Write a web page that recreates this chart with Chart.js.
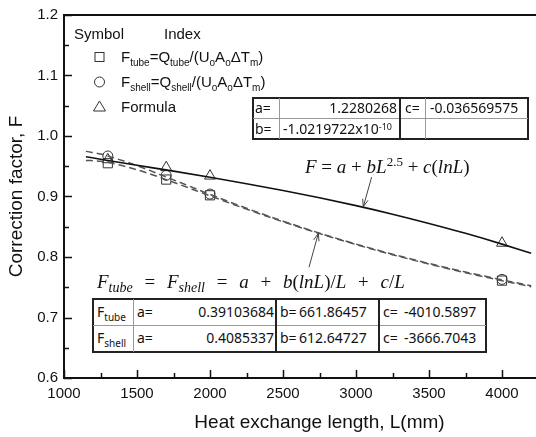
<!DOCTYPE html>
<html><head><meta charset="utf-8">
<script src="https://cdn.jsdelivr.net/npm/chart.js@4.4.0/dist/chart.umd.min.js"></script>
<style>
html,body{margin:0;padding:0;background:#fff;overflow:hidden;width:536px;height:437px;}
#wrap{position:relative;width:584px;height:437px;}
#c{position:absolute;left:0;top:0;}
.t{position:absolute;white-space:nowrap;font-family:"Liberation Sans",Arial,sans-serif;font-size:15px;color:#111;line-height:18px;}
.t sub{font-size:10px;vertical-align:-4px;line-height:0;}
.eq{position:absolute;white-space:nowrap;font-family:"Liberation Serif","Times New Roman",serif;font-size:19px;color:#111;line-height:22px;}
.eq i{font-style:italic;}
.eq sub{font-size:14px;vertical-align:-4px;line-height:0;font-style:italic;}
.eq sup{font-size:13px;vertical-align:7px;line-height:0;}
.box{position:absolute;background:#fff;border:2px solid #222;box-sizing:border-box;}
.hl{position:absolute;height:1px;background:#999;}
.vl{position:absolute;width:1px;background:#999;}
.vk{position:absolute;width:2px;background:#222;}
.c{position:absolute;white-space:nowrap;font-family:"Noto Sans","Open Sans",sans-serif;font-size:14px;color:#111;line-height:20px;}
.c sub{font-size:10px;vertical-align:-4px;line-height:0;}
.c sup{font-size:9px;vertical-align:4px;line-height:0;}
</style>
</head><body>
<div id="wrap">
<canvas id="c" width="584" height="437"></canvas>

<!-- legend -->
<div class="t" style="left:74px;top:25px;">Symbol</div>
<div class="t" style="left:164px;top:25px;">Index</div>
<div class="t" style="left:121px;top:48px;">F<sub>tube</sub>=Q<sub>tube</sub>/(U<sub>o</sub>A<sub>o</sub>ΔT<sub>m</sub>)</div>
<div class="t" style="left:121px;top:73px;">F<sub>shell</sub>=Q<sub>shell</sub>/(U<sub>o</sub>A<sub>o</sub>ΔT<sub>m</sub>)</div>
<div class="t" style="left:121px;top:98px;">Formula</div>

<!-- top parameter table -->
<div class="box" style="left:252px;top:97px;width:277px;height:43px;"></div>
<div class="hl" style="left:253px;top:118px;width:275px;"></div>
<div class="vl" style="left:279px;top:98px;height:41px;"></div>
<div class="vk" style="left:399px;top:98px;height:41px;"></div>
<div class="vl" style="left:425px;top:98px;height:41px;"></div>
<div class="c" style="left:255px;top:98px;">a=</div>
<div class="c" style="left:280px;top:98px;width:117px;text-align:right;">1.2280268</div>
<div class="c" style="left:405px;top:98px;">c=</div>
<div class="c" style="left:430px;top:98px;">-0.036569575</div>
<div class="c" style="left:255px;top:119px;">b=</div>
<div class="c" style="left:283px;top:119px;">-1.0219722x10<sup>-10</sup></div>

<!-- equations -->
<div class="eq" style="left:305px;top:156px;"><i>F</i> = <i>a</i> + <i>bL</i><sup>2.5</sup> + <i>c</i>(<i>lnL</i>)</div>
<div class="eq" style="left:97px;top:271px;word-spacing:7px;"><i>F</i><sub>tube</sub> = <i>F</i><sub>shell</sub> = <i>a</i> + <i>b</i>(<i>lnL</i>)/<i>L</i> + <i>c</i>/<i>L</i></div>

<!-- bottom parameter table -->
<div class="box" style="left:92px;top:298px;width:395px;height:55px;"></div>
<div class="hl" style="left:93px;top:325px;width:393px;"></div>
<div class="vl" style="left:133px;top:299px;height:53px;"></div>
<div class="vk" style="left:275px;top:299px;height:53px;"></div>
<div class="vk" style="left:378px;top:299px;height:53px;"></div>
<div class="c" style="left:97px;top:302px;">F<sub>tube</sub></div>
<div class="c" style="left:137px;top:302px;">a=</div>
<div class="c" style="left:160px;top:302px;width:114px;text-align:right;">0.39103684</div>
<div class="c" style="left:280px;top:302px;">b=</div>
<div class="c" style="left:299px;top:302px;">661.86457</div>
<div class="c" style="left:383px;top:302px;">c=</div>
<div class="c" style="left:404px;top:302px;">-4010.5897</div>
<div class="c" style="left:97px;top:328px;">F<sub>shell</sub></div>
<div class="c" style="left:137px;top:328px;">a=</div>
<div class="c" style="left:160px;top:328px;width:114px;text-align:right;">0.4085337</div>
<div class="c" style="left:280px;top:328px;">b=</div>
<div class="c" style="left:299px;top:328px;">612.64727</div>
<div class="c" style="left:383px;top:328px;">c=</div>
<div class="c" style="left:404px;top:328px;">-3666.7043</div>
</div>

<script>
// ---- data ----
const lengthPoints = [1300, 1700, 2000, 4000];
const fTube        = [0.955, 0.928, 0.902, 0.761];
const fShell       = [0.967, 0.935, 0.904, 0.763];
const fFormula     = [0.961, 0.948, 0.934, 0.823];

const curveLength  = [1150, 1250, 1300, 1500, 1750, 2000, 2250, 2500, 2750, 3000, 3250, 3500, 3750, 4000, 4200];
const formulaCurve = [0.9657, 0.9616, 0.9596, 0.9517, 0.9419, 0.9318, 0.9212, 0.9100, 0.8979, 0.8849, 0.8708, 0.8555, 0.8391, 0.8213, 0.8061];
const tubeCurve    = [0.9597, 0.9583, 0.9565, 0.9442, 0.9235, 0.9011, 0.8791, 0.8582, 0.8387, 0.8206, 0.8038, 0.7883, 0.7740, 0.7608, 0.7509];
const shellCurve   = [0.9746, 0.9702, 0.9670, 0.9510, 0.9275, 0.9035, 0.8806, 0.8592, 0.8395, 0.8213, 0.8047, 0.7893, 0.7752, 0.7622, 0.7525];

const xTicks = [1000, 1500, 2000, 2500, 3000, 3500, 4000];
const yTicks = [0.6, 0.7, 0.8, 0.9, 1.0, 1.1, 1.2];

// arrow annotations in data units: [tailL, tailF, tipL, tipF]
const arrowFormula = [3107, 0.932, 3050, 0.883];
const arrowTube    = [2678, 0.783, 2742, 0.839];

function pts(xs, ys){ return xs.map((v,i)=>({x:v, y:ys[i]})); }

function arrow(ctx, x1, y1, x2, y2){
  ctx.beginPath(); ctx.moveTo(x1,y1); ctx.lineTo(x2,y2); ctx.stroke();
  const ang = Math.atan2(y2-y1, x2-x1), h = 8, s = 0.35;
  ctx.beginPath();
  ctx.moveTo(x2 - h*Math.cos(ang - s), y2 - h*Math.sin(ang - s));
  ctx.lineTo(x2, y2);
  ctx.lineTo(x2 - h*Math.cos(ang + s), y2 - h*Math.sin(ang + s));
  ctx.stroke();
}

const deco = {
  id: 'deco',
  afterDraw(chart){
    const {ctx, chartArea:a, scales:{x, y}} = chart;
    ctx.save();
    ctx.strokeStyle = '#111';
    ctx.lineWidth = 2;
    ctx.beginPath();
    ctx.moveTo(a.left - 1, a.top); ctx.lineTo(a.right, a.top); ctx.lineTo(a.right, a.bottom);
    ctx.stroke();
    // inward ticks
    ctx.lineWidth = 1.5;
    ctx.beginPath();
    for (let v = 1000; v <= 4500; v += 250) {
      const px = Math.round(x.getPixelForValue(v)) + 0.5;
      const len = (v % 500 === 0) ? 8 : 5;
      ctx.moveTo(px, a.bottom); ctx.lineTo(px, a.bottom - len);
    }
    for (let k = 0; k <= 12; k++) {
      const py = Math.round(y.getPixelForValue(0.6 + k*0.05)) + 0.5;
      const len = (k % 2 === 0) ? 8 : 5;
      ctx.moveTo(a.left, py); ctx.lineTo(a.left + len, py);
    }
    ctx.stroke();
    // arrows
    ctx.strokeStyle = '#444'; ctx.lineWidth = 1;
    [arrowFormula, arrowTube].forEach(r => arrow(ctx, x.getPixelForValue(r[0]), y.getPixelForValue(r[1]), x.getPixelForValue(r[2]), y.getPixelForValue(r[3])));
    // legend symbols
    ctx.strokeStyle = '#333'; ctx.lineWidth = 1;
    const lx = 99.5;
    ctx.strokeRect(lx - 4.5, 57 - 4.5, 9, 9);
    ctx.beginPath(); ctx.arc(lx, 82, 5, 0, Math.PI*2); ctx.stroke();
    ctx.beginPath(); ctx.moveTo(lx, 101); ctx.lineTo(lx + 6, 111); ctx.lineTo(lx - 6, 111); ctx.closePath(); ctx.stroke();
    ctx.restore();
  }
};

const AX_FONT = {family: '"Liberation Sans", Arial, sans-serif', size: 15};
const TITLE_FONT = {family: '"Liberation Sans", Arial, sans-serif', size: 19};

new Chart(document.getElementById('c'), {
  type: 'scatter',
  data: {
    datasets: [
      {label: 'Formula fit', data: pts(curveLength, formulaCurve), showLine: true, borderColor: '#111', borderWidth: 1.6, pointRadius: 0, cubicInterpolationMode: 'monotone', fill: false},
      {label: 'Ftube fit', data: pts(curveLength, tubeCurve), showLine: true, borderColor: '#555', borderWidth: 1.5, borderDash: [7, 4], pointRadius: 0, cubicInterpolationMode: 'monotone', fill: false},
      {label: 'Fshell fit', data: pts(curveLength, shellCurve), showLine: true, borderColor: '#555', borderWidth: 1.5, borderDash: [7, 4], pointRadius: 0, cubicInterpolationMode: 'monotone', fill: false},
      {label: 'Ftube', data: pts(lengthPoints, fTube), showLine: false, pointStyle: 'rect', pointRadius: 6.5, borderColor: '#333', borderWidth: 1, backgroundColor: 'rgba(0,0,0,0)'},
      {label: 'Fshell', data: pts(lengthPoints, fShell), showLine: false, pointStyle: 'circle', pointRadius: 5, borderColor: '#333', borderWidth: 1, backgroundColor: 'rgba(0,0,0,0)'},
      {label: 'Formula', data: pts(lengthPoints, fFormula), showLine: false, pointStyle: 'triangle', pointRadius: 6.3, borderColor: '#333', borderWidth: 1, backgroundColor: 'rgba(0,0,0,0)'}
    ]
  },
  options: {
    responsive: false,
    animation: false,
    devicePixelRatio: 1,
    layout: {padding: {top: 11, right: 9, left: 0, bottom: 0}},
    plugins: {legend: {display: false}, tooltip: {enabled: false}},
    scales: {
      x: {
        type: 'linear', min: 1000, max: 4500,
        grid: {display: false, drawTicks: false},
        border: {display: true, color: '#111', width: 2},
        afterBuildTicks: s => { s.ticks = xTicks.map(v => ({value: v})); },
        ticks: {font: AX_FONT, color: '#111', padding: 7, autoSkip: false, maxRotation: 0, callback: v => String(v)},
        title: {display: true, text: 'Heat exchange length, L(mm)', font: TITLE_FONT, color: '#111', padding: {top: 0, bottom: 3}},
        afterFit: s => { s.height = 59; }
      },
      y: {
        type: 'linear', min: 0.6, max: 1.2,
        grid: {display: false, drawTicks: false},
        border: {display: true, color: '#111', width: 2},
        afterBuildTicks: s => { s.ticks = yTicks.map(v => ({value: v})); },
        ticks: {font: AX_FONT, color: '#111', padding: 6, callback: v => Number(v).toFixed(1)},
        title: {display: true, text: 'Correction factor, F', font: TITLE_FONT, color: '#111', padding: {top: 5, bottom: 0}},
        afterFit: s => { s.width = 64; }
      }
    }
  },
  plugins: [deco]
});
</script>
</body></html>
